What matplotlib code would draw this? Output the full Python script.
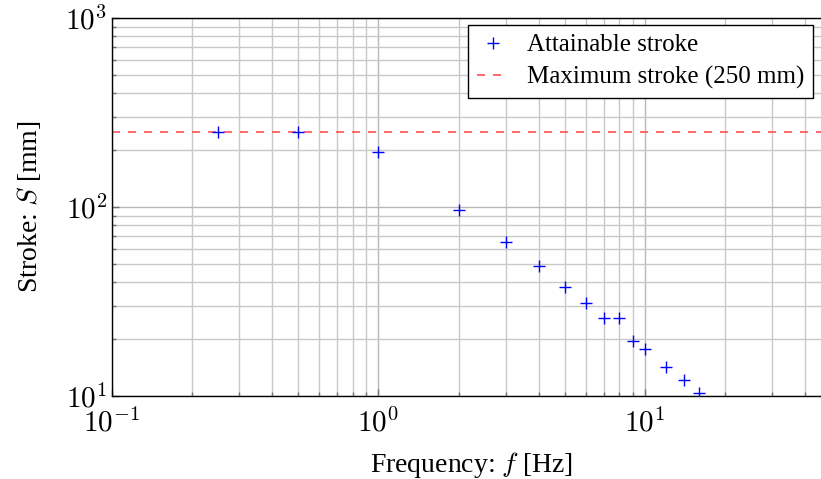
import matplotlib
matplotlib.use("Agg")
import matplotlib.pyplot as plt
import numpy as np

plt.rcParams["font.family"] = ["Liberation Serif", "DejaVu Serif"]
plt.rcParams["mathtext.fontset"] = "cm"

# frequency [Hz] and attainable stroke [mm]
freq = [0.25, 0.5, 1, 2, 3, 4, 5, 6, 7, 8, 9, 10, 12, 14, 16]
stroke = [250, 250, 196, 97, 65, 48.7, 37.8, 30.9, 25.9, 25.8, 19.6, 17.7, 14.3, 12.2, 10.4]
max_stroke = 250

fig = plt.figure(figsize=(8.21, 4.79), dpi=100)
ax = fig.add_axes([112 / 821, 1 - 396 / 479, 719 / 821, 378 / 479])

ax.plot(freq, stroke, linestyle="none", marker="+", color="blue",
        markersize=9, markeredgewidth=1.0, label="Attainable stroke", zorder=3)
ax.axhline(max_stroke, color="#ff5050", linewidth=1.2, dashes=(4.8, 4.8),
           label="Maximum stroke (250 mm)", zorder=2)

ax.set_xscale("log")
ax.set_yscale("log")
ax.set_xlim(0.1, 50)
ax.set_ylim(10, 1000)

ax.grid(True, which="major", color="#b8b8b8", linewidth=1.0)
ax.grid(True, which="minor", color="#c8c8c8", linewidth=1.0)
ax.set_axisbelow(True)

ax.tick_params(which="both", direction="in", colors="#707070", labelcolor="black",
               labelsize=21, top=False, right=False)
ax.tick_params(which="major", length=5, width=1)
ax.tick_params(which="minor", length=3, width=1)
ax.tick_params(axis="x", pad=9)
ax.set_xticks([0.1, 1, 10])
ax.set_xticklabels([r"$10^{-1}$", r"$10^{0}$", r"$10^{1}$"])
ax.set_yticks([10, 100, 1000])
ax.set_yticklabels([r"$10^{1}$", r"$10^{2}$", r"$10^{3}$"])

for s in ax.spines.values():
    s.set_color("black")
    s.set_linewidth(1.0)

ax.set_xlabel(r"Frequency: $f$ [Hz]", fontsize=20, labelpad=9)
ax.set_ylabel(r"Stroke: $S$ [mm]", fontsize=20, labelpad=16)

leg = ax.legend(loc="upper right", bbox_to_anchor=((813 - 112) / 719, 1 - 7 / 378),
                borderaxespad=0, fontsize=18, frameon=True, fancybox=False,
                framealpha=1, edgecolor="black", borderpad=0.35, labelspacing=0.4,
                handlelength=1.3, handletextpad=0.7)
leg.get_frame().set_linewidth(1.0)

fig.savefig("out.png", dpi=100)
